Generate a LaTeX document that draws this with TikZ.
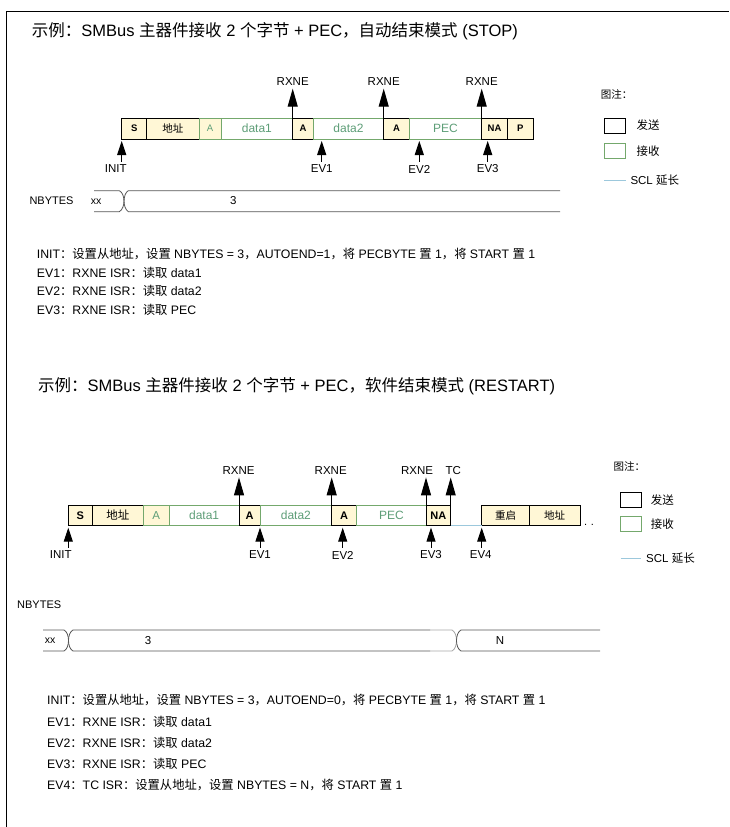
\documentclass[tikz,border=0pt]{standalone}
\usepackage{fontspec}
\setmainfont{Liberation Sans}
\newfontfamily\cjk{Noto Sans CJK SC}
\usetikzlibrary{arrows.meta, positioning}
\definecolor{cream}{HTML}{FFF7D6}
\definecolor{rxgreen}{HTML}{74A86C}
\definecolor{rxtext}{HTML}{5E9E78}
\definecolor{sclblue}{HTML}{9CC8DC}
\definecolor{busgray}{HTML}{555555}

\tikzset{
  tx/.style={draw=black, fill=cream, line width=0.8pt, minimum height=21pt, inner sep=0pt, outer sep=0pt, anchor=west, font=\fontsize{9.5}{11}\selectfont\bfseries},
  rxack/.style={tx, draw=rxgreen, text=rxtext, font=\fontsize{9.5}{11}\selectfont},
  rxdata/.style={tx, draw=rxgreen, fill=white, text=rxtext, font=\fontsize{12}{14}\selectfont},
  uparrow/.style={-{Triangle[width=10pt,length=18pt]}, line width=1pt},
  evarrow/.style={-{Triangle[width=9pt,length=14pt]}, line width=1pt, shorten <=3pt},
  sig/.style={font=\fontsize{11.5}{13}\selectfont, inner sep=0pt},
  txtline/.style={anchor=west, inner sep=0pt, font=\fontsize{12.3}{14}\selectfont},
  headline/.style={anchor=west, inner sep=0pt, font=\fontsize{16.5}{19}\selectfont},
  legtext/.style={inner sep=0pt, font=\fontsize{11.5}{13}\selectfont},
  legbox/.style={draw, line width=1pt, minimum width=21pt, minimum height=15pt, inner sep=0pt},
  bus/.style={busgray, line width=0.8pt},
}

\begin{document}
\begin{tikzpicture}[x=1pt, y=-1pt]
\useasboundingbox (0,0) rectangle (729,827);
\draw[line width=1pt] (6,827) -- (6,11) -- (729,11);

% ---- auto end (STOP)
\node[headline] (title1) at (31.7,31.7) {{\cjk 示例：}SMBus {\cjk 主器件接收} 2 {\cjk 个字节} + PEC{\cjk ，自动结束模式} (STOP)};

\node[tx, minimum width=25pt] (s1) at (121.7,128.5) {S};
\node[tx, minimum width=52.3pt, font=\fontsize{10.5}{12}\selectfont] (ad1) at (s1.east) {\cjk 地址};
\node[rxack, minimum width=22pt] (ak1) at (ad1.east) {A};
\node[rxdata, minimum width=71.7pt] (da1) at (ak1.east) {data1};
\node[tx, minimum width=20.6pt] (ak2) at (da1.east) {A};
\node[rxdata, minimum width=70.4pt] (da2) at (ak2.east) {data2};
\node[tx, minimum width=25.6pt] (ak3) at (da2.east) {A};
\node[rxdata, minimum width=72.4pt] (pec1) at (ak3.east) {PEC};
\node[tx, minimum width=25.6pt] (na1) at (pec1.east) {NA};
\node[tx, minimum width=26pt] (p1) at (na1.east) {P};

\node[sig] (rx1) at (292.7,82) {RXNE};
\node[sig] (rx2) at (383.7,82) {RXNE};
\node[sig] (rx3) at (481.7,82) {RXNE};
\draw[uparrow] (ak2.north west) -- ([yshift=-2.5pt]ak2.north west |- rx1.south);
\draw[uparrow] (ak3.north west) -- ([yshift=-2.5pt]ak3.north west |- rx2.south);
\draw[uparrow] (na1.north west) -- ([yshift=-2.5pt]na1.north west |- rx3.south);

\node[sig] (init1) at (115.7,169) {INIT};
\node[sig] (ev1) at (321.7,169) {EV1};
\node[sig] (ev2) at (419.3,169) {EV2};
\node[sig] (ev3) at (487.7,169) {EV3};
\draw[evarrow] (s1.south west |- init1.north) -- ([yshift=-2pt]s1.south west);
\draw[evarrow] (ev1.north) -- ([yshift=-2pt]ev1.north |- da2.south);
\draw[evarrow] (ev2.north) -- ([yshift=-2pt]ev2.north |- pec1.south);
\draw[evarrow] (ev3.north) -- ([yshift=-2pt]ev3.north |- na1.south);

% legend
\node[legtext, anchor=west, font=\fontsize{10.5}{12}\selectfont] (leg1) at (600.7,94) {\cjk 图注：};
\node[legbox] (lgtx1) at (614.5,125.5) {};
\node[legbox, draw=rxgreen] (lgrx1) at (614.5,151) {};
\node[legtext, right=11pt of lgtx1] {\cjk 发送};
\node[legtext, right=11pt of lgrx1] {\cjk 接收};
\coordinate (lgscl1) at (604,180);
\draw[sclblue, line width=1pt] (lgscl1) -- ++(22,0) node[legtext, right=4pt, black] {SCL {\cjk 延长}};

% NBYTES
\node[anchor=west, inner sep=0pt, font=\fontsize{11}{13}\selectfont] (nb1) at (29.3,201) {NBYTES};
\node[inner sep=0pt, font=\fontsize{10.5}{12}\selectfont] (xx1) at (96,201.5) {xx};
\node[inner sep=0pt, font=\fontsize{11.5}{13}\selectfont] (three1) at (233.3,201) {3};
\draw[bus] (94,190.7) -- (119.3,190.7) .. controls (122.5,192) and (124,197) .. (124,201.2) .. controls (124,205) and (122.5,210) .. (119.3,211.7) -- (94,211.7);
\draw[bus] (560,190.7) -- (128.3,190.7) .. controls (125.5,192) and (124,197) .. (124,201.2) .. controls (124,205) and (125.5,210) .. (128.3,211.7) -- (560,211.7);

\node[txtline] (t1a) at (36.7,254) {INIT{\cjk ：设置从地址，设置} NBYTES = 3{\cjk ，}AUTOEND=1{\cjk ，将} PECBYTE {\cjk 置} 1{\cjk ，将} START {\cjk 置} 1};
\node[txtline] (t1b) at (36.7,272.5) {EV1{\cjk ：}RXNE ISR{\cjk ：读取} data1};
\node[txtline] (t1c) at (36.7,291) {EV2{\cjk ：}RXNE ISR{\cjk ：读取} data2};
\node[txtline] (t1d) at (36.7,309.5) {EV3{\cjk ：}RXNE ISR{\cjk ：读取} PEC};

% ---- software end (RESTART)
\node[headline] (title2) at (38,386) {{\cjk 示例：}SMBus {\cjk 主器件接收} 2 {\cjk 个字节} + PEC{\cjk ，软件结束模式} (RESTART)};

\tikzset{tx/.append style={minimum height=20.7pt, font=\fontsize{11}{13}\selectfont\bfseries}}
\node[tx, minimum width=24pt] (s2) at (68.3,515.3) {S};
\node[tx, minimum width=51pt, font=\fontsize{11.5}{13}\selectfont] (ad2) at (s2.east) {\cjk 地址};
\node[rxack, minimum width=26pt, font=\fontsize{11.5}{13}\selectfont] (ak4) at (ad2.east) {A};
\node[rxdata, minimum width=69.7pt] (da3) at (ak4.east) {data1};
\node[tx, minimum width=21pt] (ak5) at (da3.east) {A};
\node[rxdata, minimum width=71.7pt] (da4) at (ak5.east) {data2};
\node[tx, minimum width=25pt] (ak6) at (da4.east) {A};
\node[rxdata, minimum width=69.3pt] (pec2) at (ak6.east) {PEC};
\node[tx, minimum width=24.7pt] (na2) at (pec2.east) {NA};
\node[tx, minimum width=47.6pt, font=\fontsize{10.5}{12}\selectfont] (rs2) at (481.7,515.3) {\cjk 重启};
\node[tx, minimum width=50.7pt, font=\fontsize{10.5}{12}\selectfont] (ad3) at (rs2.east) {\cjk 地址};
\draw[sclblue, line width=1pt] (na2.south east) -- (rs2.south west);
\node[anchor=base west, inner sep=0pt, font=\fontsize{11}{13}\selectfont] (dots2) at ([xshift=4pt]ad3.south east) {.\,\,.};

\node[sig] (rx4) at (238.5,470.7) {RXNE};
\node[sig] (rx5) at (330.7,470.7) {RXNE};
\node[sig] (rx6) at (417,470.7) {RXNE};
\node[sig] (tc2) at (453.3,470.7) {TC};
\draw[uparrow] (ak5.north west) -- ([yshift=-2.5pt]ak5.north west |- rx4.south);
\draw[uparrow] (ak6.north west) -- ([yshift=-2.5pt]ak6.north west |- rx5.south);
\draw[uparrow] (na2.north west) -- ([yshift=-2.5pt]na2.north west |- rx6.south);
\draw[uparrow] (na2.north east) -- ([yshift=-2.5pt]na2.north east |- tc2.south);

\node[sig] (init2) at (60.7,555) {INIT};
\node[sig] (ev4) at (260,555) {EV1};
\node[sig] (ev5) at (342.7,555) {EV2};
\node[sig] (ev6) at (431,555) {EV3};
\node[sig] (ev7) at (480.7,555) {EV4};
\draw[evarrow] (s2.south west |- init2.north) -- ([yshift=-2pt]s2.south west);
\draw[evarrow] (da4.south west |- ev4.north) -- ([yshift=-2pt]da4.south west);
\draw[evarrow] (ev5.north) -- ([yshift=-2pt]ev5.north |- ak6.south);
\draw[evarrow] (ev6.north) -- ([yshift=-2pt]ev6.north |- na2.south);
\draw[evarrow] (rs2.south west |- ev7.north) -- ([yshift=-2pt]rs2.south west);

% legend
\node[legtext, anchor=west, font=\fontsize{10.5}{12}\selectfont] (leg2) at (613.3,466) {\cjk 图注：};
\node[legbox] (lgtx2) at (630.7,500) {};
\node[legbox, draw=rxgreen] (lgrx2) at (630.7,524) {};
\node[legtext, right=9pt of lgtx2] {\cjk 发送};
\node[legtext, right=9pt of lgrx2] {\cjk 接收};
\coordinate (lgscl2) at (620.7,558);
\draw[sclblue, line width=1pt] (lgscl2) -- ++(20,0) node[legtext, right=5pt, black] {SCL {\cjk 延长}};

% NBYTES
\node[anchor=west, inner sep=0pt, font=\fontsize{11}{13}\selectfont] (nb2) at (17,605) {NBYTES};
\node[inner sep=0pt, font=\fontsize{10.5}{12}\selectfont] (xx2) at (50,641) {xx};
\node[inner sep=0pt, font=\fontsize{11.5}{13}\selectfont] (three2) at (148,640.5) {3};
\node[inner sep=0pt, font=\fontsize{11.5}{13}\selectfont] (en2) at (500,640.5) {N};
\draw[bus] (43,630) -- (64,630) .. controls (67,631.5) and (68.5,636) .. (68.5,640.5) .. controls (68.5,645) and (67,649.5) .. (64,651) -- (43,651);
\draw[bus] (430,630) -- (73,630) .. controls (70,631.5) and (68.5,636) .. (68.5,640.5) .. controls (68.5,645) and (70,649.5) .. (73,651) -- (430,651);
\draw[bus, gray!70] (430,630) -- (452,630) .. controls (455,631.5) and (456.5,636) .. (456.5,640.5) .. controls (456.5,645) and (455,649.5) .. (452,651) -- (430,651);
\draw[bus] (600,630) -- (461,630) .. controls (458,631.5) and (456.5,636) .. (456.5,640.5) .. controls (456.5,645) and (458,649.5) .. (461,651) -- (600,651);

\node[txtline] (t2a) at (47,700) {INIT{\cjk ：设置从地址，设置} NBYTES = 3{\cjk ，}AUTOEND=0{\cjk ，将} PECBYTE {\cjk 置} 1{\cjk ，将} START {\cjk 置} 1};
\node[txtline] (t2b) at (47,722) {EV1{\cjk ：}RXNE ISR{\cjk ：读取} data1};
\node[txtline] (t2c) at (47,743) {EV2{\cjk ：}RXNE ISR{\cjk ：读取} data2};
\node[txtline] (t2d) at (47,764) {EV3{\cjk ：}RXNE ISR{\cjk ：读取} PEC};
\node[txtline] (t2e) at (47,785) {EV4{\cjk ：}TC ISR{\cjk ：设置从地址，设置} NBYTES = N{\cjk ，将} START {\cjk 置} 1};
\end{tikzpicture}
\end{document}
